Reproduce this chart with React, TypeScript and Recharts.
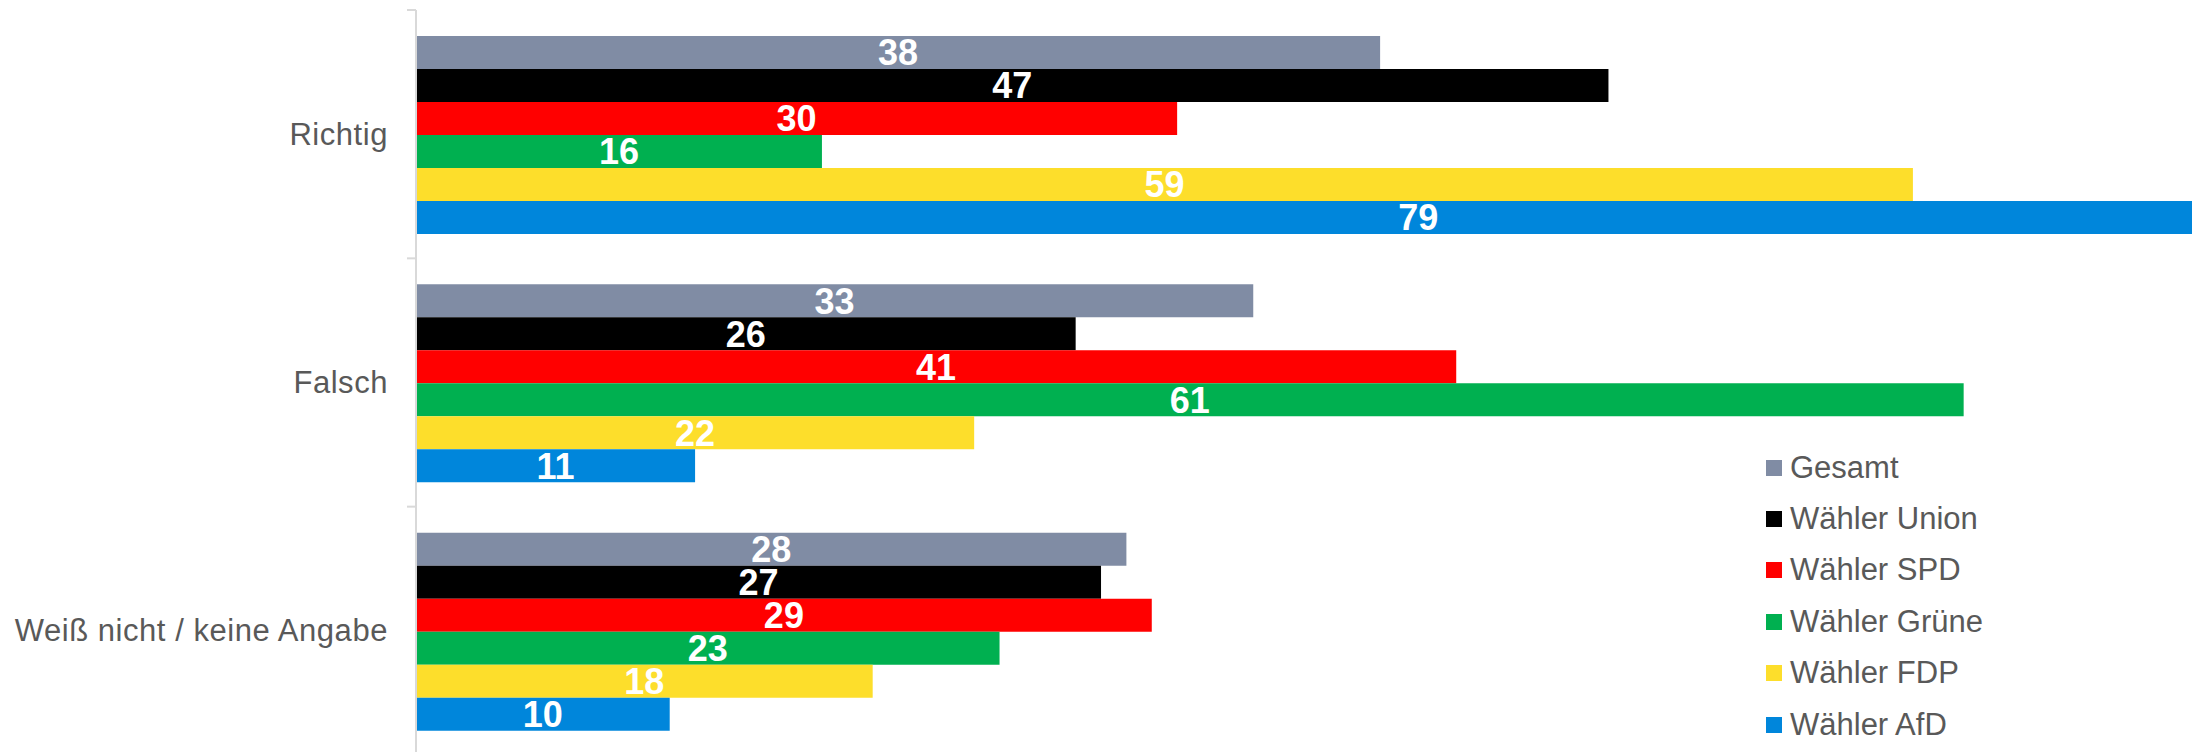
import { BarChart, Bar, XAxis, YAxis, LabelList } from 'recharts';

const categories = ['Richtig', 'Falsch', 'Weiß nicht / keine Angabe'];
const gesamt = [38, 33, 28];
const union = [47, 26, 27];
const spd = [30, 41, 29];
const gruene = [16, 61, 23];
const fdp = [59, 22, 18];
const afd = [79, 11, 10];

const SERIES = [
    { key: 'gesamt', name: 'Gesamt', color: '#808CA4', values: gesamt },
    { key: 'union', name: 'Wähler Union', color: '#000000', values: union },
    { key: 'spd', name: 'Wähler SPD', color: '#FF0000', values: spd },
    { key: 'gruene', name: 'Wähler Grüne', color: '#00B050', values: gruene },
    { key: 'fdp', name: 'Wähler FDP', color: '#FDDE2B', values: fdp },
    { key: 'afd', name: 'Wähler AfD', color: '#0086DB', values: afd },
];

const data = categories.map((name, i) => {
    const row: any = { name };
    SERIES.forEach(s => { row[s.key] = s.values[i]; });
    return row;
});

const FONT = '"Liberation Sans", Arial, sans-serif';
const PLOT_TOP = 10;
const PLOT_BOTTOM = 755;
const BAND = (PLOT_BOTTOM - PLOT_TOP) / categories.length;

// category label plus a tick mark on the upper band boundary
const CategoryTick = ({ x, y, payload }: any) => {
    const axisX = x + 28;
    const top = y - BAND / 2;
    return (
        <g>
            <line x1={axisX - 9} x2={axisX} y1={top} y2={top} stroke="#D9D9D9" strokeWidth={2} />
            <text x={x} y={y} textAnchor="end" dominantBaseline="central" fill="#595959" fontSize={31} letterSpacing={0.55} fontFamily={FONT}>
                {payload.value}
            </text>
        </g>
    );
};

const LegendBox = () => (
    <div style={{ position: 'absolute', left: 1766, top: 442, fontFamily: FONT, fontSize: 31, color: '#595959' }}>
        {SERIES.map(s => (
            <div key={s.key} style={{ display: 'flex', alignItems: 'center', height: 51.4 }}>
                <span style={{ width: 16, height: 16, background: s.color, marginRight: 8, display: 'inline-block' }} />
                <span>{s.name}</span>
            </div>
        ))}
    </div>
);

export default function App() {
    return (
        <div style={{ width: 2201, height: 752, overflow: 'hidden', position: 'relative', background: '#fff' }}>
            <style>{`body{margin:0}`}</style>
            <BarChart
                width={2201}
                height={PLOT_BOTTOM + 5}
                data={data}
                layout="vertical"
                margin={{ top: PLOT_TOP, right: 9, bottom: 5, left: 0 }}
                barCategoryGap={26}
                barGap={0}
            >
                <XAxis type="number" domain={[0, 70]} allowDataOverflow hide />
                <YAxis
                    type="category"
                    dataKey="name"
                    width={416}
                    axisLine={{ stroke: '#D9D9D9', strokeWidth: 2 }}
                    tickLine={false}
                    tickSize={0}
                    tickMargin={28}
                    tick={<CategoryTick />}
                    interval={0}
                />
                {SERIES.map(s => (
                    <Bar key={s.key} dataKey={s.key} name={s.name} fill={s.color} isAnimationActive={false}>
                        <LabelList dataKey={s.key} position="center" fill="#FFFFFF" fontSize={36} fontWeight="bold" fontFamily={FONT} />
                    </Bar>
                ))}
            </BarChart>
            <LegendBox />
        </div>
    );
}
